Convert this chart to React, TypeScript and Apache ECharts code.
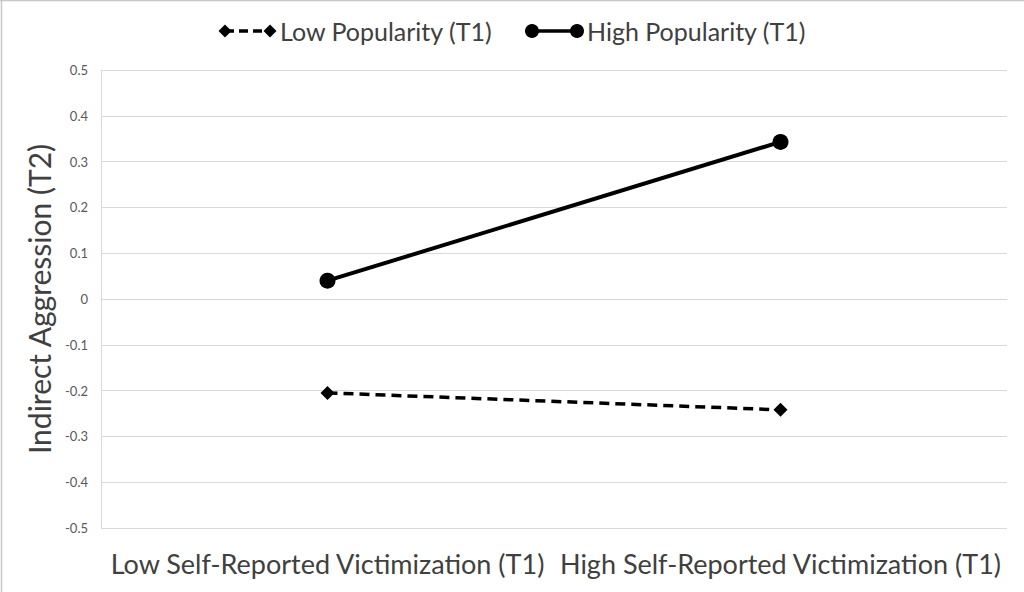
import React, { useEffect, useRef } from "react";
import * as echarts from "echarts";

const categories = [
  "Low Self-Reported Victimization (T1)",
  "High Self-Reported Victimization (T1)",
];
const lowPopularity = [-0.205, -0.242];
const highPopularity = [0.04, 0.343];
const seriesNames = ["Low Popularity (T1)", "High Popularity (T1)"];
const yAxisTitle = "Indirect Aggression (T2)";

const FONT = "Lato, 'Open Sans', sans-serif";

export default function App() {
  const ref = useRef<HTMLDivElement>(null);
  useEffect(() => {
    if (!ref.current) return;
    const chart = echarts.init(ref.current, undefined, { renderer: "svg" });
    const legendY = 31;
    const legendItem = (x0: number, name: string, dashed: boolean) => {
      const children: any[] = [
        {
          type: "line",
          shape: { x1: x0 + 5, y1: legendY, x2: x0 + 50, y2: legendY },
          style: {
            stroke: "#000",
            lineWidth: 3.5,
            lineDash: dashed ? [9, 5] : null,
          },
        },
      ];
      [x0 + 5, x0 + 50].forEach((cx) => {
        if (dashed) {
          children.push({
            type: "polygon",
            shape: {
              points: [
                [cx, legendY - 6.5],
                [cx + 6.5, legendY],
                [cx, legendY + 6.5],
                [cx - 6.5, legendY],
              ],
            },
            style: { fill: "#000" },
          });
        } else {
          children.push({
            type: "circle",
            shape: { cx, cy: legendY, r: 7 },
            style: { fill: "#000" },
          });
        }
      });
      children.push({
        type: "text",
        x: x0 + 60,
        y: legendY,
        style: {
          text: name,
          fill: "#404040",
          font: `25px ${FONT}`,
          verticalAlign: "middle",
          align: "left",
        },
      });
      return { type: "group", children };
    };

    chart.setOption({
      animation: false,
      backgroundColor: "#fff",
      grid: { left: 101, right: 17, top: 70, bottom: 64, containLabel: false },
      xAxis: {
        type: "category",
        data: categories,
        boundaryGap: true,
        axisLine: { show: true, lineStyle: { color: "#d9d9d9", width: 1 } },
        axisTick: { show: false },
        axisLabel: {
          color: "#404040",
          fontSize: 27,
          fontFamily: FONT,
          margin: 22,
          interval: 0,
        },
      },
      yAxis: {
        type: "value",
        min: -0.5,
        max: 0.5,
        interval: 0.1,
        name: yAxisTitle,
        nameLocation: "middle",
        nameGap: 47,
        nameTextStyle: { color: "#404040", fontSize: 30, fontFamily: FONT },
        axisLine: { show: true, lineStyle: { color: "#d9d9d9", width: 1 } },
        axisTick: { show: false },
        splitLine: { show: true, lineStyle: { color: "#d9d9d9", width: 1 } },
        axisLabel: {
          color: "#595959",
          fontSize: 13,
          fontFamily: FONT,
          margin: 13,
          formatter: (v: number) => String(Math.round(v * 10) / 10),
        },
      },
      series: [
        {
          name: seriesNames[0],
          type: "line",
          data: lowPopularity,
          symbol: "diamond",
          symbolSize: 14,
          lineStyle: { color: "#000", width: 3.5, type: [10, 6] },
          itemStyle: { color: "#000" },
        },
        {
          name: seriesNames[1],
          type: "line",
          data: highPopularity,
          symbol: "circle",
          symbolSize: 16,
          lineStyle: { color: "#000", width: 4 },
          itemStyle: { color: "#000" },
        },
      ],
      graphic: [
        {
          type: "line",
          shape: { x1: 0, y1: 0.5, x2: 1024, y2: 0.5 },
          style: { stroke: "#c8c8c8", lineWidth: 1.5 },
        },
        {
          type: "line",
          shape: { x1: 1.5, y1: 0, x2: 1.5, y2: 592 },
          style: { stroke: "#c8c8c8", lineWidth: 1.5 },
        },
        legendItem(220, seriesNames[0], true),
        legendItem(527, seriesNames[1], false),
      ],
    });
    return () => chart.dispose();
  }, []);
  return (
    <div
      ref={ref}
      style={{ position: "fixed", left: 0, top: 0, width: 1024, height: 592 }}
    />
  );
}
